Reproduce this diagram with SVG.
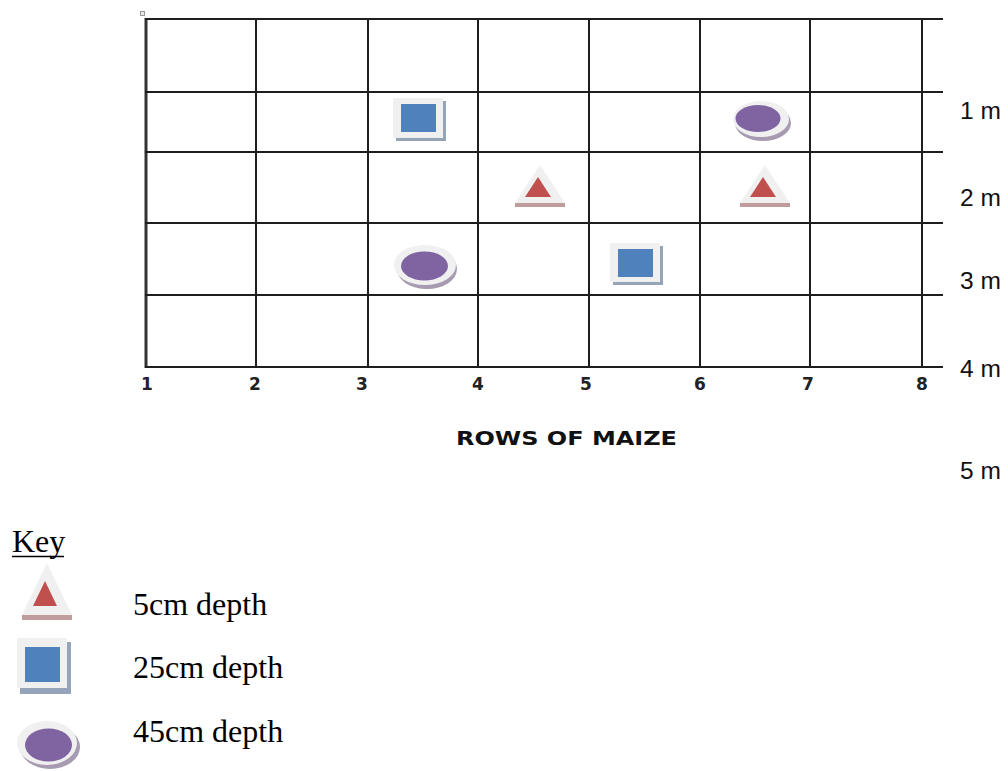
<svg xmlns="http://www.w3.org/2000/svg" width="1008" height="771" viewBox="0 0 1008 771">
<style>
.grid{stroke:#1e1e1e;stroke-width:2;fill:none}
.axis{font-family:"DejaVu Sans",Verdana,sans-serif;font-weight:bold;font-size:17px;fill:#222;text-anchor:middle}
.meter{font-family:"Liberation Sans",Arial,sans-serif;font-size:24.5px;fill:#111}
.key{font-family:"Liberation Serif","Times New Roman",serif;font-size:32px;fill:#000}
.rim{fill:#f0f0f0}
.tri{fill:#c0504d}
.trish{fill:#c09c9c}
.sq{fill:#4f81bd}
.sqsh{fill:#95a4b8}
.el{fill:#8064a2}
.elsh{fill:#a69bb0}
</style>
<rect width="1008" height="771" fill="#fff"/>
<rect x="140.5" y="11.5" width="4" height="4" fill="#e8e8e8" stroke="#999" stroke-width="1"/>
<g id="connectors">
<g id="grid-vertical" class="grid">
<line x1="146" y1="18" x2="146" y2="368" stroke-width="3" stroke="#333"/>
<line x1="256" y1="19" x2="256" y2="367"/>
<line x1="368" y1="19" x2="368" y2="367"/>
<line x1="478" y1="19" x2="478" y2="367"/>
<line x1="589" y1="19" x2="589" y2="367"/>
<line x1="700" y1="19" x2="700" y2="367"/>
<line x1="810" y1="19" x2="810" y2="367"/>
<line x1="922" y1="19" x2="922" y2="367"/>
</g>
<g id="grid-horizontal" class="grid">
<line x1="145" y1="19" x2="943" y2="19"/>
<line x1="145" y1="92" x2="943" y2="92"/>
<line x1="145" y1="152" x2="943" y2="152"/>
<line x1="145" y1="223" x2="943" y2="223"/>
<line x1="145" y1="295" x2="943" y2="295"/>
<line x1="145" y1="367" x2="943" y2="367"/>
</g>
</g>
<g id="axis-numbers">
<text class="axis" x="147" y="390">1</text>
<text class="axis" x="255" y="390">2</text>
<text class="axis" x="362" y="390">3</text>
<text class="axis" x="478" y="390">4</text>
<text class="axis" x="586" y="390">5</text>
<text class="axis" x="700" y="390">6</text>
<text class="axis" x="808" y="390">7</text>
<text class="axis" x="922" y="390">8</text>
</g>
<text id="axis-title" x="456" y="445" font-family="'DejaVu Sans',Verdana,sans-serif" font-weight="bold" font-size="19.5" fill="#111" textLength="221" lengthAdjust="spacingAndGlyphs">ROWS OF MAIZE</text>
<g id="meters">
<text class="meter" x="960" y="119">1 m</text>
<text class="meter" x="960" y="206">2 m</text>
<text class="meter" x="960" y="289">3 m</text>
<text class="meter" x="960" y="377">4 m</text>
<text class="meter" x="960" y="479">5 m</text>
</g>
<g id="square-1">
<rect class="sqsh" x="396" y="101" width="50" height="40"/>
<rect class="rim" x="393" y="98" width="50" height="40"/>
<rect class="sq" x="401" y="104" width="35" height="28"/>
</g>
<g id="ellipse-1">
<ellipse class="elsh" cx="763" cy="123" rx="28" ry="18"/>
<ellipse class="rim" cx="761" cy="119" rx="28" ry="18"/>
<ellipse class="el" cx="758" cy="118.5" rx="22.5" ry="13.5"/>
</g>
<g id="triangle-1">
<rect class="trish" x="515" y="203" width="50" height="4"/>
<polygon class="rim" points="540,165 515,203 565,203"/>
<polygon class="tri" points="538,177 525,197 551,197"/>
</g>
<g id="triangle-2">
<rect class="trish" x="740" y="203" width="50" height="4"/>
<polygon class="rim" points="765,165 740,203 790,203"/>
<polygon class="tri" points="763,177 750,197 776,197"/>
</g>
<g id="ellipse-2">
<ellipse class="elsh" cx="427" cy="269" rx="30" ry="20"/>
<ellipse class="rim" cx="425" cy="265" rx="31" ry="20"/>
<ellipse class="el" cx="424.5" cy="266" rx="23.5" ry="14.5"/>
</g>
<g id="square-2">
<rect class="sqsh" x="613" y="246" width="50" height="39"/>
<rect class="rim" x="610" y="243" width="50" height="39"/>
<rect class="sq" x="618" y="249" width="35" height="28"/>
</g>
<g id="key">
<text class="key" x="12" y="552" font-size="30">Key</text>
<line x1="12" y1="556.5" x2="64" y2="556.5" stroke="#000" stroke-width="1.5"/>
<g id="key-triangle">
<rect class="trish" x="22" y="615" width="50" height="5"/>
<polygon class="rim" points="47,563 22,615 72,615"/>
<polygon class="tri" points="45,581 33,606 57,606"/>
</g>
<text class="key" x="133" y="615">5cm depth</text>
<g id="key-square">
<rect class="sqsh" x="20" y="642" width="51" height="52"/>
<rect class="rim" x="17" y="638" width="50" height="50"/>
<rect class="sq" x="25" y="647" width="35" height="35"/>
</g>
<text class="key" x="133" y="678">25cm depth</text>
<g id="key-ellipse">
<ellipse class="elsh" cx="50" cy="747" rx="30" ry="22"/>
<ellipse class="rim" cx="47" cy="743" rx="30" ry="22"/>
<ellipse class="el" cx="48.5" cy="745" rx="23.5" ry="16.5"/>
</g>
<text class="key" x="133" y="742">45cm depth</text>
</g>
</svg>
